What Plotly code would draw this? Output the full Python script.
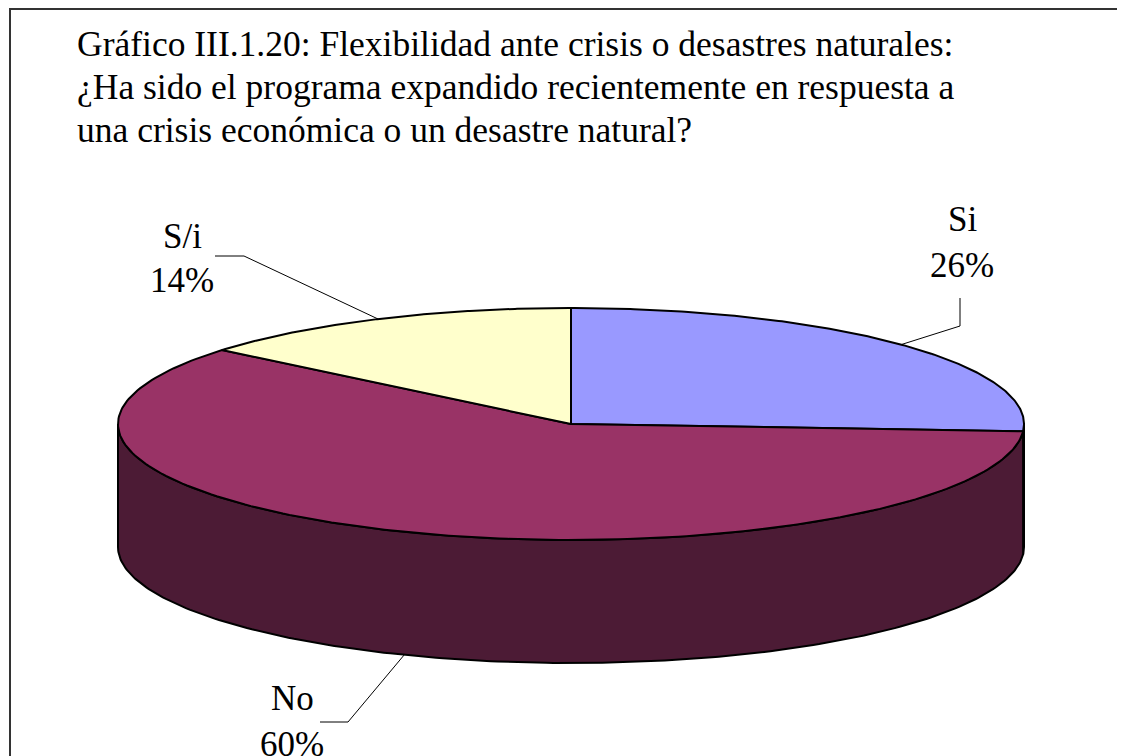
import numpy as np
import plotly.graph_objects as go

# ---- data ----
labels = ["Si", "No", "S/i"]
values = [26, 60, 14]
title_lines = [
    "Gráfico III.1.20: Flexibilidad ante crisis o desastres naturales:",
    "¿Ha sido el programa expandido recientemente en respuesta a",
    "una crisis económica o un desastre natural?",
]

# ---- style ----
top_colors = ["#9999FF", "#993366", "#FFFFCC"]
side_colors = ["#4D4D80", "#4C1B35", "#808066"]
FONT = "Liberation Serif"

# page offset (default body margin of the html page)
OFF = 8

# 3D pie geometry (pixel-like data units)
CX, CY, RX, RY, DEPTH = 571, 424, 453, 116, 123
START = 90.0

# label layout: (elbow, end of leader, text x, y of name, y of pct)
label_layout = {
    "Si": dict(elbow=(960, 326), end=(960, 298), tx=962, y1=219, y2=265),
    "S/i": dict(elbow=(244, 256), end=(215, 256), tx=182, y1=236, y2=280),
    "No": dict(elbow=(348, 722), end=(320, 722), tx=292, y1=698, y2=744),
}


def arc(a_from, a_to, drop=0.0, n=200):
    t = np.radians(np.linspace(a_from, a_to, n))
    return CX + RX * np.cos(t), CY - RY * np.sin(t) + drop


fig = go.Figure()

total = float(sum(values))
angles = []
cum = 0.0
for v in values:
    a0 = START - cum / total * 360.0
    cum += v
    a1 = START - cum / total * 360.0
    angles.append((a0, a1))

# sides (front half only: angles in [180, 360] mod 360)
for i, (a0, a1) in enumerate(angles):
    for k in range(-2, 2):
        lo = max(a1, 180 + 360 * k)
        hi = min(a0, 360 + 360 * k)
        if hi > lo:
            xt, yt = arc(lo, hi)
            xb, yb = arc(hi, lo, DEPTH)
            xs = np.concatenate([xt, xb, xt[:1]])
            ys = np.concatenate([yt, yb, yt[:1]])
            fig.add_trace(go.Scatter(x=xs, y=ys, mode="lines", fill="toself",
                                     fillcolor=side_colors[i],
                                     line=dict(color="black", width=2),
                                     hoverinfo="skip", showlegend=False))

# top faces
for i, (a0, a1) in enumerate(angles):
    xa, ya = arc(a0, a1)
    xs = np.concatenate([[CX], xa, [CX]])
    ys = np.concatenate([[CY], ya, [CY]])
    fig.add_trace(go.Scatter(x=xs, y=ys, mode="lines", fill="toself",
                             fillcolor=top_colors[i],
                             line=dict(color="black", width=2),
                             hoverinfo="skip", showlegend=False,
                             name=labels[i]))

annotations = []
# leader lines and labels
for i, (a0, a1) in enumerate(angles):
    mid = (a0 + a1) / 2.0
    t = np.radians(mid)
    drop = DEPTH if np.sin(t) < 0 else 0.0
    rx_, ry_ = CX + RX * np.cos(t), CY - RY * np.sin(t) + drop
    L = label_layout[labels[i]]
    fig.add_trace(go.Scatter(x=[rx_, L["elbow"][0], L["end"][0]],
                             y=[ry_, L["elbow"][1], L["end"][1]],
                             mode="lines", line=dict(color="black", width=1),
                             hoverinfo="skip", showlegend=False))
    annotations.append(dict(x=L["tx"], y=L["y1"], text=labels[i], showarrow=False,
                            xanchor="center", yanchor="middle",
                            font=dict(family=FONT, size=35, color="black")))
    annotations.append(dict(x=L["tx"], y=L["y2"], text=f"{values[i]}%", showarrow=False,
                            xanchor="center", yanchor="middle",
                            font=dict(family=FONT, size=35, color="black")))

# title lines
for j, line in enumerate(title_lines):
    annotations.append(dict(x=75, y=44 + 43 * j, text=line, showarrow=False,
                            xanchor="left", yanchor="middle",
                            font=dict(family=FONT, size=35.5, color="black")))

fig.update_layout(
    width=1125, height=756,
    margin=dict(l=0, r=0, t=0, b=0),
    paper_bgcolor="white", plot_bgcolor="white",
    xaxis=dict(range=[OFF, 1125 + OFF], visible=False, fixedrange=True),
    yaxis=dict(range=[756 + OFF, OFF], visible=False, fixedrange=True),
    annotations=annotations,
    shapes=[dict(type="rect", xref="x", yref="y", x0=10, y0=9, x1=1160, y1=800,
                 line=dict(color="#333333", width=2), layer="below")],
)

fig.write_html("out.html")
